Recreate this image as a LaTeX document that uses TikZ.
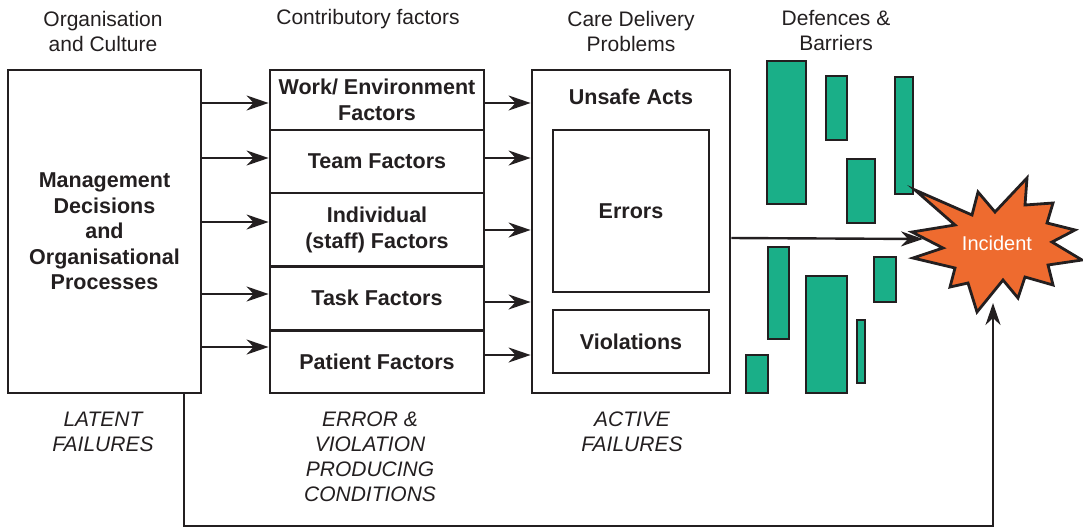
\documentclass[tikz,border=0pt]{standalone}
\usepackage{fontspec}
\setmainfont{Liberation Sans}
\usetikzlibrary{arrows.meta,calc}
\definecolor{ink}{HTML}{231F20}
\definecolor{barg}{HTML}{1AAF88}
\definecolor{burst}{HTML}{EE6B2F}
\begin{document}
\begin{tikzpicture}[x=1pt,y=-1pt,
  box/.style={draw=ink, line width=2.8pt, inner sep=0pt, align=center, font=\fontsize{21.5}{25.5}\selectfont\bfseries, text=ink},
  plain/.style={inner sep=0pt, align=center, font=\fontsize{21.5}{25.5}\selectfont\bfseries, text=ink},
  arr/.style={draw=ink, line width=2.4pt, -{Stealth[length=22pt,width=15pt,inset=7pt]}},
  hdr/.style={align=center, inner sep=0pt, font=\fontsize{21}{25}\selectfont, text=ink},
  capt/.style={align=center, inner sep=0pt, font=\fontsize{21}{25}\selectfont\itshape, text=ink},
  bar/.style={draw=ink, fill=barg, line width=2.8pt}]
\useasboundingbox (0,0) rectangle (1083,528);

% headers
\node[hdr] (h1) at (103,31) {Organisation\\and Culture};
\node[hdr] (h2) at (368,19.5) {Contributory factors};
\node[hdr] (h3) at (631,31) {Care Delivery\\Problems};
\node[hdr] (h4) at (836,31) {Defences \&\\Barriers};

% left box
\node[box, minimum width=193, minimum height=323] (mgmt) at (104.5,231.5)
  {Management\\Decisions\\and\\Organisational\\Processes};

% middle column
\node[box, minimum width=214, minimum height=60] (w1) at (377,100) {Work/ Environment\\Factors};
\node[box, minimum width=214, minimum height=63] (w2) at (377,161.5) {Team Factors};
\node[box, minimum width=214, minimum height=74] (w3) at (377,230) {Individual\\(staff) Factors};
\node[box, minimum width=214, minimum height=64] (w4) at (377,298) {Task Factors};
\node[box, minimum width=214, minimum height=62] (w5) at (377,362) {Patient Factors};

% right column
\node[box, minimum width=198, minimum height=323] (ua) at (631,231.5) {};
\node[plain] (uat) at (631,97) {Unsafe Acts};
\node[box, minimum width=156, minimum height=162] (err) at (631,211) {Errors};
\node[box, minimum width=156, minimum height=63] (vio) at (631,341.5) {Violations};

% captions
\node[capt] (c1) at (103,432) {LATENT\\FAILURES};
\node[capt] (c2) at (370,457) {ERROR \&\\VIOLATION\\PRODUCING\\CONDITIONS};
\node[capt] (c3) at (632,432) {ACTIVE\\FAILURES};

% arrows left -> middle
\draw[arr] (mgmt.east |- 0,103) -- (w1.west |- 0,103);
\draw[arr] (mgmt.east |- 0,158) -- (w2.west |- 0,158);
\draw[arr] (mgmt.east |- 0,222) -- (w3.west |- 0,222);
\draw[arr] (mgmt.east |- 0,294) -- (w4.west |- 0,294);
\draw[arr] (mgmt.east |- 0,347) -- (w5.west |- 0,347);
% arrows middle -> right
\draw[arr] (w1.east |- 0,103) -- (ua.west |- 0,103);
\draw[arr] (w2.east |- 0,158) -- (ua.west |- 0,158);
\draw[arr] (w3.east |- 0,230) -- (ua.west |- 0,230);
\draw[arr] (w4.east |- 0,302) -- (ua.west |- 0,302);
\draw[arr] (w5.east |- 0,355) -- (ua.west |- 0,355);

% barriers
\draw[bar] (767,61) rectangle (806,204);
\draw[bar] (826,76) rectangle (847,140);
\draw[bar] (847,159) rectangle (875,223);
\draw[bar] (895,77) rectangle (913,194);
\draw[bar] (768,247) rectangle (789,339);
\draw[bar] (806,276) rectangle (847,393);
\draw[bar] (857,320) rectangle (865,383);
\draw[bar] (874,257) rectangle (896,302);
\draw[bar] (746,355) rectangle (768,393);

% incident burst
\filldraw[draw=ink, fill=burst, line width=2.8pt, line join=miter, miter limit=20]
  (915,190) -- (972,215) -- (978,192) -- (995,212) -- (1027,178) -- (1025,205)
  -- (1053,203) -- (1047,223) -- (1075,230) -- (1052,242) -- (1082,260)
  -- (1048,265) -- (1053,285) -- (1025,277) -- (1018,298) -- (1003,280)
  -- (977,312) -- (968,283) -- (950,287) -- (955,268) -- (913,258)
  -- (943,248) -- (912,232) -- (955,225) -- cycle;
\node[hdr, text=white, font=\fontsize{20}{25}\selectfont] (inc) at (997,243) {Incident};
\coordinate (starW) at (923,239);
\coordinate (starS) at (993,303);

% connectors to incident
\draw[arr] (ua.east |- 0,238) -- (starW);
\draw[arr] (mgmt.south -| 184,0) -- (184,526) -- (993,526) -- (starS);
\end{tikzpicture}
\end{document}
